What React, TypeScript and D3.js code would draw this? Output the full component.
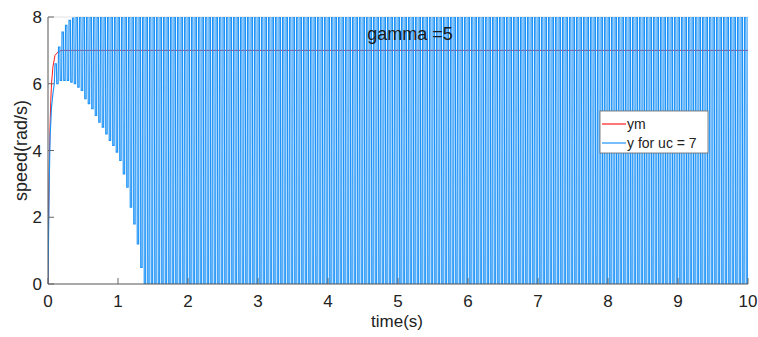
import React from "react";
import * as d3 from "d3";

// reference response
const ymT = [0, 0.01, 0.02, 0.03, 0.04, 0.05, 0.07, 0.1, 0.15, 0.2, 0.3, 10];
const ymY = [0, 2.3, 3.8, 4.8, 5.5, 6.0, 6.5, 6.85, 6.97, 7.0, 7.0, 7.0];

// blue output: initial rise, then switching between peaks and troughs
const riseT = [0, 0.01, 0.02, 0.03, 0.05, 0.07, 0.09];
const riseY = [0, 1.8, 3.3, 4.4, 5.3, 5.7, 6.0];
const oscStart = 0.1;
const oscPeriod = 0.05;
const peakVals = [6.6, 7.1, 7.55, 7.75, 7.9, 7.97];
const troughVals = [
  6.0, 6.1, 6.1, 6.1, 6.05, 6.0, 5.9, 5.8, 5.55, 5.4, 5.25, 5.05, 4.85, 4.7,
  4.5, 4.3, 4.15, 3.95, 3.7, 3.3, 2.9, 2.3, 1.8, 1.2, 0.5,
];
const peakLimit = 8;
const troughLimit = 0;

const xTicks = [0, 1, 2, 3, 4, 5, 6, 7, 8, 9, 10];
const yTicks = [0, 2, 4, 6, 8];

const W = 758;
const H = 337;
const M = { left: 48, right: 10, top: 17, bottom: 53 };

const FONT = "Arial, 'Liberation Sans', sans-serif";

export default function App() {
  const x = d3.scaleLinear().domain([0, 10]).range([M.left, W - M.right]);
  const y = d3.scaleLinear().domain([0, 8]).range([H - M.bottom, M.top]);

  const ymData: [number, number][] = ymT.map((t, i) => [t, ymY[i]]);

  const blue: [number, number][] = riseT.map((t, i) => [t, riseY[i]]);
  const half = oscPeriod / 2;
  for (let k = 0; ; k++) {
    const tp = oscStart + k * oscPeriod;
    if (tp > 10) break;
    const pk = k < peakVals.length ? peakVals[k] : peakLimit;
    const tr = k < troughVals.length ? troughVals[k] : troughLimit;
    blue.push([tp, pk]);
    blue.push([tp + half * 0.8, pk]);
    blue.push([tp + half, tr]);
    blue.push([tp + half * 1.8, tr]);
  }

  const line = d3
    .line<[number, number]>()
    .x((d) => x(d[0]))
    .y((d) => y(d[1]));

  const x0 = x(0);
  const x1 = x(10);
  const y0 = y(0);
  const y1 = y(8);

  return (
    <svg
      width={W}
      height={H}
      style={{ position: "absolute", left: 0, top: 0, background: "#fff" }}
      fontFamily={FONT}
    >
      <defs>
        <clipPath id="plot">
          <rect x={x0} y={y1} width={x1 - x0} height={y0 - y1} />
        </clipPath>
      </defs>

      <line x1={x0} x2={x1} y1={y1} y2={y1} stroke="#e2e2e2" strokeWidth={1} />

      <g clipPath="url(#plot)">
        <path d={line(ymData) || ""} fill="none" stroke="#ff1a1a" strokeWidth={1} />
        <path d={line(blue) || ""} fill="none" stroke="#1e93f7" strokeWidth={1.15} />
      </g>

      {/* axes */}
      <line x1={x0} x2={x1} y1={y0} y2={y0} stroke="#555" strokeWidth={1} />
      <line x1={x0} x2={x0} y1={y0} y2={y1} stroke="#555" strokeWidth={1} />

      {xTicks.map((t) => (
        <g key={"x" + t}>
          <line x1={x(t)} x2={x(t)} y1={y0} y2={y0 - 6} stroke="#666" />
          <text x={x(t)} y={y0 + 23} textAnchor="middle" fontSize={17} fill="#222">
            {t}
          </text>
        </g>
      ))}
      {yTicks.map((t) => (
        <g key={"y" + t}>
          <line x1={x0} x2={x0 + 6} y1={y(t)} y2={y(t)} stroke="#666" />
          <text x={x0 - 6} y={y(t) + 6} textAnchor="end" fontSize={17} fill="#222">
            {t}
          </text>
        </g>
      ))}

      <text x={397} y={327} textAnchor="middle" fontSize={17} fill="#222">
        time(s)
      </text>
      <text
        transform={`translate(27,${(y0 + y1) / 2}) rotate(-90)`}
        textAnchor="middle"
        fontSize={18}
        fill="#222"
      >
        speed(rad/s)
      </text>
      <text x={410} y={40} textAnchor="middle" fontSize={18} fill="#1a1a1a">
        gamma =5
      </text>

      {/* legend */}
      <g transform="translate(600,111)">
        <rect width={108} height={42} fill="#fff" stroke="#666" strokeWidth={0.8} />
        <line x1={2} x2={26} y1={13} y2={13} stroke="#ff1a1a" strokeWidth={1.2} />
        <text x={27} y={18} fontSize={14} fill="#222">
          ym
        </text>
        <line x1={2} x2={26} y1={32} y2={32} stroke="#1e93f7" strokeWidth={1.2} />
        <text x={27} y={37} fontSize={14} fill="#222">
          y for uc = 7
        </text>
      </g>
    </svg>
  );
}
